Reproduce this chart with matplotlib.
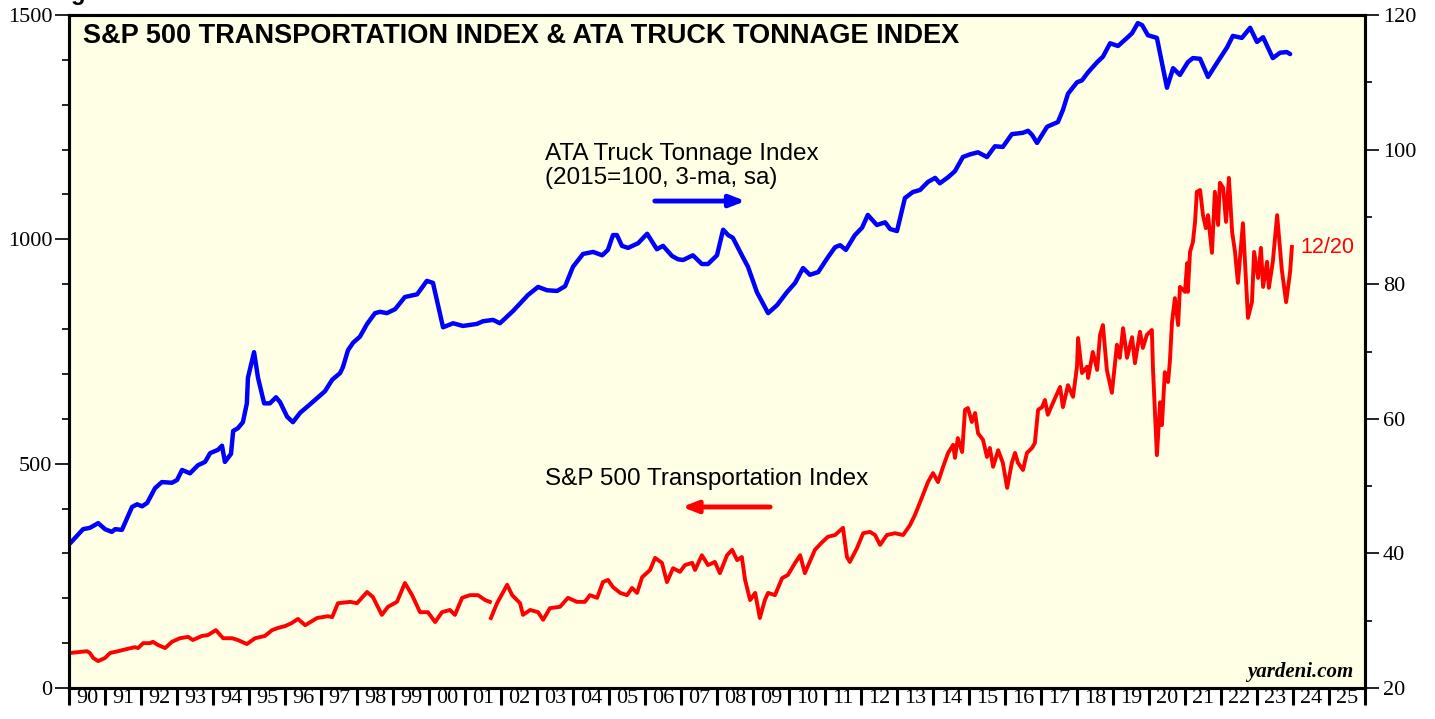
"""
plot.py
S&P 500 Transportation Index vs ATA Truck Tonnage Index, saved to out.png.
"""

import numpy as np
import matplotlib.pyplot as plt

# S&P 500 Transportation Index (left axis), decimal year / index level
tr_year = [
    1990.03, 1990.25, 1990.50, 1990.58, 1990.67, 1990.81, 1991.00, 1991.14, 1991.36, 1991.61,
    1991.83, 1991.92, 1992.06, 1992.25, 1992.33, 1992.47, 1992.67, 1992.86, 1993.08, 1993.31,
    1993.44, 1993.69, 1993.86, 1994.08, 1994.28, 1994.53, 1994.69, 1994.94, 1995.17, 1995.44,
    1995.64, 1995.81, 1996.00, 1996.19, 1996.36, 1996.56, 1996.89, 1997.19, 1997.31, 1997.47,
    1997.81, 1998.00, 1998.28, 1998.44, 1998.69, 1998.86, 1999.11, 1999.33, 1999.53, 1999.75,
    1999.97, 2000.17, 2000.36, 2000.58, 2000.72, 2000.92, 2001.14, 2001.36, 2001.56, 2001.69,
    2001.70, 2001.72, 2001.89, 2002.17, 2002.31, 2002.53, 2002.61, 2002.81, 2003.03, 2003.17,
    2003.36, 2003.64, 2003.86, 2004.11, 2004.33, 2004.47, 2004.67, 2004.83, 2004.97, 2005.11,
    2005.31, 2005.50, 2005.64, 2005.78, 2005.92, 2006.14, 2006.28, 2006.47, 2006.61, 2006.78,
    2006.97, 2007.11, 2007.31, 2007.39, 2007.58, 2007.75, 2007.94, 2008.08, 2008.28, 2008.42,
    2008.56, 2008.69, 2008.78, 2008.92, 2009.06, 2009.19, 2009.33, 2009.42, 2009.61, 2009.81,
    2009.97, 2010.17, 2010.31, 2010.44, 2010.72, 2010.92, 2011.08, 2011.28, 2011.50, 2011.61,
    2011.69, 2011.89, 2012.06, 2012.25, 2012.39, 2012.53, 2012.72, 2012.94, 2013.17, 2013.36,
    2013.50, 2013.69, 2013.86, 2014.00, 2014.14, 2014.28, 2014.42, 2014.56, 2014.61, 2014.69,
    2014.81, 2014.89, 2014.97, 2015.08, 2015.17, 2015.25, 2015.39, 2015.50, 2015.58, 2015.67,
    2015.81, 2015.94, 2016.06, 2016.19, 2016.28, 2016.36, 2016.50, 2016.61, 2016.75, 2016.83,
    2016.92, 2017.03, 2017.11, 2017.19, 2017.33, 2017.53, 2017.61, 2017.75, 2017.89, 2018.00,
    2018.03, 2018.14, 2018.28, 2018.31, 2018.44, 2018.56, 2018.64, 2018.72, 2018.83, 2018.97,
    2019.11, 2019.19, 2019.28, 2019.39, 2019.53, 2019.61, 2019.75, 2019.83, 2019.94, 2020.08,
    2020.11, 2020.22, 2020.31, 2020.36, 2020.44, 2020.53, 2020.58, 2020.64, 2020.72, 2020.81,
    2020.86, 2021.00, 2021.06, 2021.08, 2021.14, 2021.22, 2021.28, 2021.33, 2021.42, 2021.50,
    2021.58, 2021.64, 2021.75, 2021.83, 2021.92, 2021.97, 2022.06, 2022.14, 2022.22, 2022.31,
    2022.39, 2022.47, 2022.61, 2022.75, 2022.86, 2022.92, 2023.03, 2023.11, 2023.17, 2023.28,
    2023.33, 2023.44, 2023.56, 2023.69, 2023.81, 2023.92, 2023.97,
]
tr_value = [
    78, 80, 82, 78, 67, 60, 67, 78, 82, 87,
    91, 89, 100, 100, 103, 96, 89, 103, 111, 114,
    107, 116, 118, 129, 111, 111, 107, 98, 111, 116,
    129, 134, 138, 145, 154, 140, 156, 160, 158, 189,
    192, 189, 214, 203, 163, 181, 192, 234, 207, 169,
    169, 147, 169, 174, 163, 201, 207, 207, 196, 192,
    np.nan, 156, 189, 230, 207, 189, 163, 174, 169, 152,
    178, 181, 201, 192, 192, 207, 201, 236, 241, 225,
    212, 207, 223, 212, 247, 263, 290, 279, 236, 267,
    259, 274, 279, 263, 296, 274, 281, 256, 296, 308,
    285, 292, 241, 196, 212, 156, 196, 212, 207, 245,
    252, 279, 296, 256, 308, 325, 337, 341, 357, 292,
    281, 312, 345, 348, 341, 319, 341, 345, 341, 363,
    386, 424, 459, 479, 459, 493, 524, 542, 513, 557,
    526, 620, 624, 593, 613, 568, 553, 515, 535, 493,
    530, 502, 446, 502, 524, 502, 486, 524, 535, 546,
    620, 626, 642, 609, 635, 671, 626, 675, 649, 716,
    780, 702, 716, 691, 749, 709, 787, 809, 709, 658,
    765, 736, 802, 736, 782, 724, 794, 758, 787, 798,
    713, 519, 637, 586, 704, 682, 727, 816, 869, 809,
    894, 883, 947, 883, 972, 994, 1039, 1106, 1110, 1054,
    1025, 1054, 970, 1106, 1032, 1126, 1115, 1039, 1137, 1016,
    972, 903, 1036, 825, 860, 972, 914, 981, 894, 950,
    892, 950, 1054, 932, 860, 927, 983,
]

# ATA Truck Tonnage Index, 2015=100, 3-ma, sa (right axis)
ata_year = [
    1990.03, 1990.39, 1990.58, 1990.81, 1991.00, 1991.19, 1991.28, 1991.47, 1991.75, 1991.89,
    1992.03, 1992.17, 1992.39, 1992.58, 1992.86, 1993.00, 1993.14, 1993.36, 1993.58, 1993.78,
    1993.92, 1994.14, 1994.25, 1994.33, 1994.50, 1994.56, 1994.69, 1994.83, 1994.94, 1994.97,
    1995.14, 1995.25, 1995.42, 1995.58, 1995.75, 1995.86, 1996.06, 1996.22, 1996.42, 1996.64,
    1996.92, 1997.11, 1997.31, 1997.53, 1997.61, 1997.75, 1997.89, 1998.08, 1998.28, 1998.50,
    1998.64, 1998.83, 1999.06, 1999.33, 1999.67, 1999.94, 2000.11, 2000.39, 2000.67, 2000.94,
    2001.33, 2001.50, 2001.78, 2001.97, 2002.33, 2002.75, 2003.03, 2003.28, 2003.56, 2003.78,
    2004.00, 2004.28, 2004.56, 2004.81, 2004.97, 2005.11, 2005.22, 2005.36, 2005.53, 2005.81,
    2006.06, 2006.33, 2006.50, 2006.75, 2006.92, 2007.06, 2007.33, 2007.58, 2007.75, 2008.00,
    2008.17, 2008.31, 2008.44, 2008.72, 2008.86, 2009.11, 2009.42, 2009.67, 2009.94, 2010.17,
    2010.39, 2010.58, 2010.81, 2011.08, 2011.28, 2011.42, 2011.58, 2011.83, 2012.03, 2012.19,
    2012.44, 2012.67, 2012.81, 2013.00, 2013.22, 2013.44, 2013.64, 2013.86, 2014.06, 2014.19,
    2014.42, 2014.61, 2014.83, 2015.03, 2015.25, 2015.50, 2015.72, 2015.94, 2016.19, 2016.50,
    2016.64, 2016.75, 2016.89, 2017.17, 2017.47, 2017.61, 2017.75, 2018.00, 2018.14, 2018.31,
    2018.56, 2018.72, 2018.92, 2019.14, 2019.39, 2019.53, 2019.69, 2019.81, 2019.97, 2020.22,
    2020.36, 2020.50, 2020.67, 2020.86, 2021.08, 2021.22, 2021.42, 2021.64, 2021.89, 2022.17,
    2022.33, 2022.58, 2022.81, 2023.00, 2023.17, 2023.44, 2023.64, 2023.83, 2023.92,
]
ata_value = [
    41.5, 43.6, 43.8, 44.5, 43.6, 43.2, 43.6, 43.5, 46.9, 47.3,
    47.0, 47.5, 49.7, 50.6, 50.5, 50.9, 52.4, 51.9, 53.1, 53.6,
    54.9, 55.4, 56.0, 53.6, 54.8, 58.2, 58.6, 59.5, 62.3, 66.1,
    69.9, 66.1, 62.3, 62.3, 63.2, 62.5, 60.3, 59.5, 60.9, 61.9,
    63.2, 64.1, 65.8, 66.8, 67.7, 70.2, 71.3, 72.2, 74.1, 75.7,
    75.9, 75.7, 76.3, 78.1, 78.5, 80.5, 80.2, 73.6, 74.2, 73.8,
    74.1, 74.5, 74.7, 74.2, 76.0, 78.4, 79.6, 79.1, 79.0, 79.7,
    82.6, 84.5, 84.8, 84.3, 85.1, 87.3, 87.3, 85.7, 85.4, 86.1,
    87.5, 85.2, 85.7, 84.2, 83.7, 83.6, 84.3, 83.0, 83.0, 84.3,
    88.1, 87.3, 86.9, 84.0, 82.6, 78.8, 75.7, 76.9, 78.8, 80.2,
    82.4, 81.4, 81.8, 84.0, 85.5, 85.8, 85.1, 87.3, 88.4, 90.3,
    88.8, 89.2, 88.2, 87.9, 92.8, 93.7, 94.0, 95.2, 95.8, 95.0,
    95.9, 96.8, 98.9, 99.3, 99.6, 98.9, 100.5, 100.4, 102.3, 102.5,
    102.8, 102.2, 101.0, 103.4, 104.1, 105.9, 108.3, 110.0, 110.3, 111.5,
    113.0, 113.8, 115.8, 115.4, 116.6, 117.3, 118.8, 118.5, 117.0, 116.6,
    112.9, 109.2, 112.1, 111.1, 113.0, 113.6, 113.5, 110.8, 112.9, 115.2,
    116.9, 116.6, 118.1, 116.0, 116.7, 113.6, 114.4, 114.5, 114.2,
]

year_labels = [f"{y % 100:02d}" for y in range(1990, 2026)]

BG = "#FFFFE5"
SERIF = "Liberation Serif"
SANS = "Liberation Sans"


def main():
    fig = plt.figure(figsize=(14.35, 7.19), dpi=100)
    ax = fig.add_axes([0.0481, 0.0431, 0.9031, 0.936])
    ax.set_facecolor(BG)
    ax2 = ax.twinx()

    ax.plot(tr_year, tr_value, color="#FF0000", lw=2.8, solid_joinstyle="round")
    ax2.plot(ata_year, ata_value, color="#0000FF", lw=3.2, solid_joinstyle="round",
             solid_capstyle="round")

    ax.set_xlim(1990, 2026)
    ax.set_ylim(0, 1500)
    ax2.set_ylim(20, 120)

    # x axis: tick marks at year boundaries, labels centred in between
    ax.set_xticks(range(1990, 2027))
    ax.set_xticklabels([])
    ax.set_xticks([y + 0.5 for y in range(1990, 2026)], minor=True)
    ax.set_xticklabels(year_labels, minor=True, fontsize=16, family=SERIF)
    ax.tick_params(axis="x", which="major", direction="out", length=12, width=2.2)
    ax.tick_params(axis="x", which="minor", length=0, pad=1)

    ax.set_yticks([0, 500, 1000, 1500])
    ax.set_yticks(range(0, 1501, 100), minor=True)
    ax.tick_params(axis="y", which="major", length=10, width=1.2, labelsize=16, pad=2)
    ax.tick_params(axis="y", which="minor", length=5, width=1.2)
    for lab in ax.get_yticklabels():
        lab.set_family(SERIF)

    ax2.set_yticks(range(20, 121, 20))
    ax2.set_yticks(range(20, 121, 10), minor=True)
    ax2.tick_params(axis="y", which="major", length=10, width=1.2, labelsize=16, pad=3)
    ax2.tick_params(axis="y", which="minor", length=5, width=1.2)
    for lab in ax2.get_yticklabels():
        lab.set_family(SERIF)

    for a in (ax, ax2):
        for side in a.spines.values():
            side.set_linewidth(2.2)

    ax.text(0.011, 0.969, "S&P 500 TRANSPORTATION INDEX & ATA TRUCK TONNAGE INDEX",
            transform=ax.transAxes, fontsize=19.5, fontweight="bold", family=SANS,
            va="center", ha="left")

    ax.text(0.367, 0.794, "ATA Truck Tonnage Index", transform=ax.transAxes,
            fontsize=17.5, family=SANS, va="center", ha="left")
    ax.text(0.367, 0.758, "(2015=100, 3-ma, sa)", transform=ax.transAxes,
            fontsize=17.5, family=SANS, va="center", ha="left")
    ax.annotate("", xy=(0.522, 0.7236), xytext=(0.452, 0.7236),
                xycoords="axes fraction",
                arrowprops=dict(arrowstyle="-|>,head_length=0.9,head_width=0.35",
                                color="#0000FF", lw=3.5, shrinkA=0, shrinkB=0))

    ax.text(0.367, 0.310, "S&P 500 Transportation Index", transform=ax.transAxes,
            fontsize=17.5, family=SANS, va="center", ha="left")
    ax.annotate("", xy=(0.473, 0.269), xytext=(0.541, 0.269),
                xycoords="axes fraction",
                arrowprops=dict(arrowstyle="-|>,head_length=0.9,head_width=0.35",
                                color="#FF0000", lw=3.5, shrinkA=0, shrinkB=0))

    ax.text(0.950, 0.654, "12/20", transform=ax.transAxes, fontsize=15.5,
            family=SANS, color="#FF0000", va="center", ha="left")

    ax.text(0.991, 0.024, "yardeni.com", transform=ax.transAxes, fontsize=15,
            family=SERIF, fontweight="bold", style="italic", va="center", ha="right")

    # chart number, mostly cut off by the top edge as in the source image
    fig.text(0.035, 1.009, "Figure 1.", fontsize=17, fontweight="bold", family=SANS,
             va="center", ha="left")

    fig.savefig("out.png", dpi=100, facecolor="white")


if __name__ == "__main__":
    main()
